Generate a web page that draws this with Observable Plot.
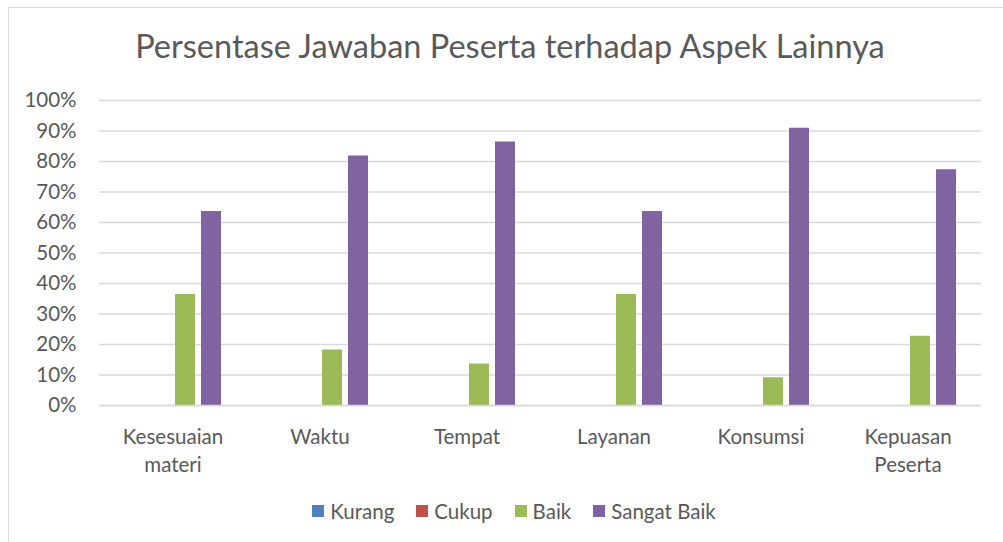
<!DOCTYPE html>
<html>
<head>
<meta charset="utf-8">
<script src="https://cdn.jsdelivr.net/npm/d3@7"></script>
<script src="https://cdn.jsdelivr.net/npm/@observablehq/plot@0.6"></script>
<style>
  html, body { margin: 0; padding: 0; background: #fff; }
  body { width: 1003px; height: 542px; position: relative; overflow: hidden; font-family: Lato, "Open Sans", sans-serif; }
  #frame { position: absolute; left: 8px; top: 7px; width: 1100px; height: 600px; border-left: 1.5px solid #d9d9d9; border-top: 1.5px solid #d9d9d9; box-sizing: border-box; }
  #title { position: absolute; left: 0; width: 1020px; top: 26px; text-align: center; font-size: 32.5px; color: #595959; white-space: nowrap; }
  #chart { position: absolute; left: 0; top: 0; }
  #legend { position: absolute; left: 0; width: 1028px; top: 499px; display: flex; justify-content: center; gap: 22px; font-size: 20.5px; color: #595959; }
  #legend .item { display: flex; align-items: center; gap: 6px; }
  #legend .sw { width: 12px; height: 12px; display: inline-block; }
</style>
</head>
<body>
<div id="frame"></div>
<div id="chart"></div>
<div id="title">Persentase Jawaban Peserta terhadap Aspek Lainnya</div>
<div id="legend"></div>
<script>
const categories = ["Kesesuaian materi", "Waktu", "Tempat", "Layanan", "Konsumsi", "Kepuasan Peserta"];
const categoryLabels = ["Kesesuaian\nmateri", "Waktu", "Tempat", "Layanan", "Konsumsi", "Kepuasan\nPeserta"];
const series = ["Kurang", "Cukup", "Baik", "Sangat Baik"];
const kurang = [0, 0, 0, 0, 0, 0];
const cukup = [0, 0, 0, 0, 0, 0];
const baik = [36.4, 18.2, 13.6, 36.4, 9.1, 22.7];
const sangatBaik = [63.6, 81.8, 86.4, 63.6, 90.9, 77.3];
const colors = ["#4f81bd", "#c0504d", "#9bbb59", "#8064a2"];
const yTicks = [0, 10, 20, 30, 40, 50, 60, 70, 80, 90, 100];

const seriesValues = [kurang, cukup, baik, sangatBaik];
const data = [];
categories.forEach((c, i) => {
  series.forEach((s, j) => {
    data.push({category: c, series: s, value: seriesValues[j][i] / 100});
  });
});
const labelOf = new Map(categories.map((c, i) => [c, categoryLabels[i]]));

const chart = Plot.plot({
  width: 1003,
  height: 480,
  marginLeft: 97,
  marginRight: 20,
  marginTop: 100,
  marginBottom: 75,
  style: {color: "#595959", fontFamily: "Lato, 'Open Sans', sans-serif", fontSize: "20.5px", background: "transparent"},
  fx: {domain: categories, padding: 0, label: null},
  x: {domain: series, paddingInner: 0.222, paddingOuter: 0.85, axis: null},
  y: {domain: [0, 1], label: null},
  color: {domain: series, range: colors},
  marks: [
    Plot.gridY(yTicks.map(d => d / 100), {stroke: "#d9d9d9", strokeOpacity: 1, strokeWidth: 1.5}),
    Plot.axisY({ticks: yTicks.map(d => d / 100), tickFormat: d3.format(".0%"), tickSize: 0, tickPadding: 23, fontSize: 20.5, label: null}),
    Plot.barY(data, {fx: "category", x: "series", y: "value", fill: "series"}),
    Plot.ruleY([0], {stroke: "#d9d9d9", strokeWidth: 1.5}),
    Plot.axisFx({anchor: "bottom", tickSize: 0, tickPadding: 19, tickFormat: d => labelOf.get(d), lineHeight: 1.35, fontSize: 20.5, label: null})
  ]
});
document.getElementById("chart").appendChild(chart);

const legend = document.getElementById("legend");
series.forEach((s, i) => {
  const item = document.createElement("div");
  item.className = "item";
  const sw = document.createElement("span");
  sw.className = "sw";
  sw.style.background = colors[i];
  const t = document.createElement("span");
  t.textContent = s;
  item.appendChild(sw);
  item.appendChild(t);
  legend.appendChild(item);
});
</script>
</body>
</html>
